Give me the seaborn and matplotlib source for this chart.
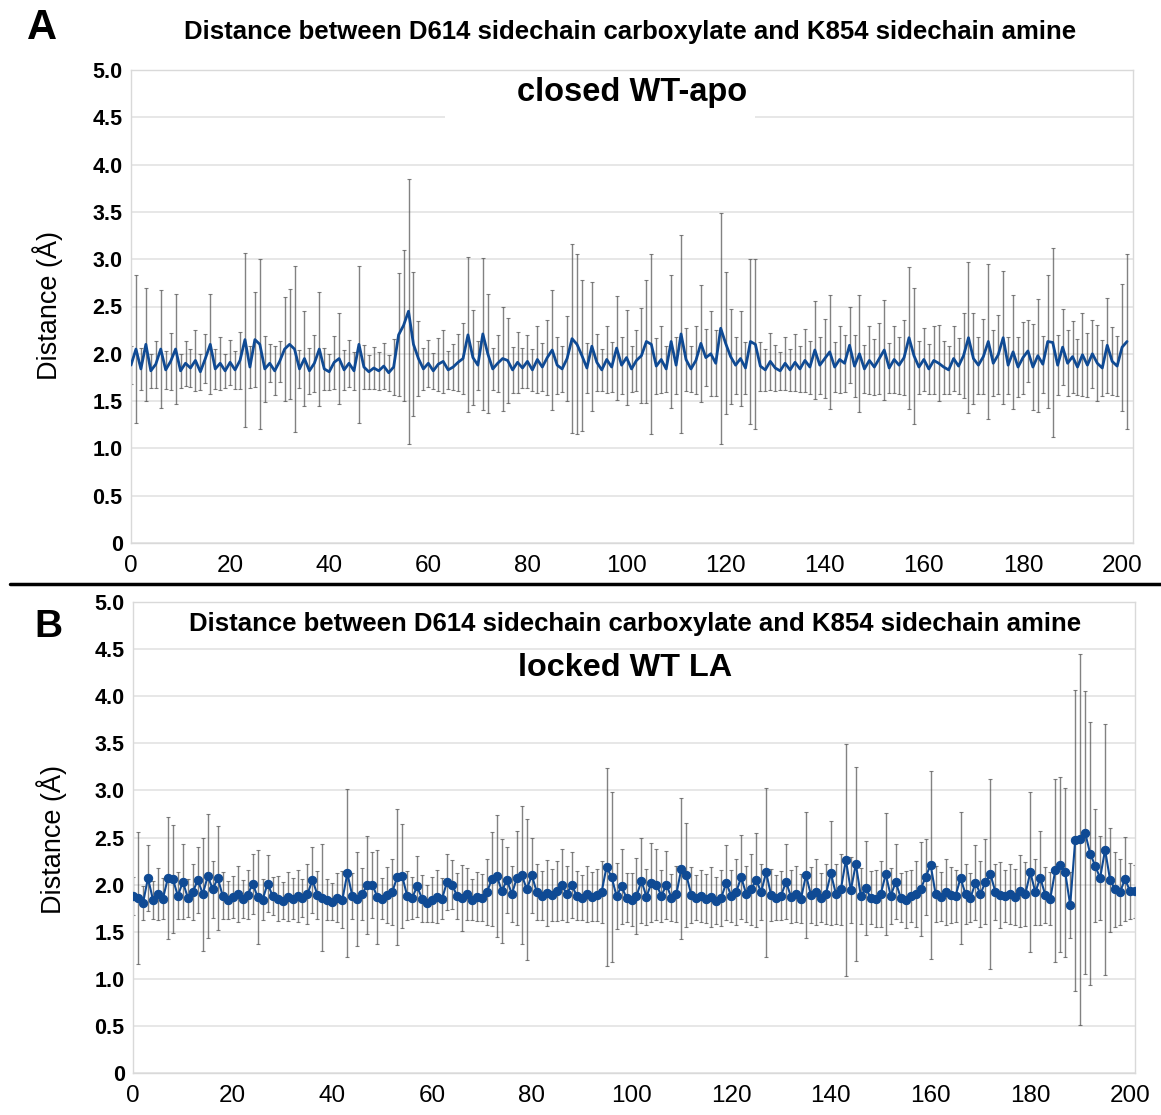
import numpy as np
import pandas as pd
import matplotlib
matplotlib.use("Agg")
import matplotlib.pyplot as plt
from matplotlib.patches import Rectangle
import seaborn as sns

# ---------------- data (1 value per ns) ----------------
title_text = "Distance between D614 sidechain carboxylate and K854 sidechain amine"
label_a = "closed WT-apo"
label_b = "locked WT LA"
y_label = "Distance (Å)"
y_ticks = [0, 0.5, 1.0, 1.5, 2.0, 2.5, 3.0, 3.5, 4.0, 4.5, 5.0]
y_tick_labels = ["0", "0.5", "1.0", "1.5", "2.0", "2.5", "3.0", "3.5", "4.0", "4.5", "5.0"]
x_ticks = [0, 20, 40, 60, 80, 100, 120, 140, 160, 180, 200]

mean_a = [
    1.88, 2.05, 1.84, 2.10, 1.82, 1.89, 2.05, 1.83, 1.92, 2.05,
    1.82, 1.90, 1.85, 1.93, 1.81, 1.95, 2.10, 1.84, 1.90, 1.82,
    1.91, 1.83, 1.93, 2.15, 1.86, 2.15, 2.10, 1.84, 1.90, 1.82,
    1.92, 2.05, 2.10, 2.05, 1.84, 1.95, 1.82, 1.90, 2.05, 1.84,
    1.81, 1.91, 1.95, 1.83, 1.90, 1.82, 2.10, 1.86, 1.81, 1.85,
    1.82, 1.87, 1.80, 1.86, 2.20, 2.30, 2.45, 2.10, 1.95, 1.84,
    1.90, 1.82, 1.89, 1.92, 1.83, 1.86, 1.91, 1.95, 2.20, 1.96,
    1.88, 2.21, 2.00, 1.84, 1.90, 1.95, 1.93, 1.83, 1.91, 1.85,
    1.92, 1.83, 1.94, 1.86, 1.96, 2.04, 1.88, 1.84, 1.95, 2.16,
    2.10, 1.98, 1.85, 2.08, 1.91, 1.83, 1.94, 1.86, 2.06, 1.88,
    1.96, 1.84, 1.93, 1.98, 2.13, 2.10, 1.87, 1.94, 1.84, 2.13,
    1.88, 2.21, 1.94, 1.84, 1.93, 2.11, 1.96, 2.00, 1.90, 2.27,
    2.11, 1.97, 1.88, 1.95, 1.85, 2.13, 2.10, 1.87, 1.83, 1.92,
    1.85, 1.82, 1.90, 1.83, 1.91, 1.84, 1.93, 1.86, 2.04, 1.88,
    1.95, 2.02, 1.86, 1.94, 1.90, 2.09, 1.87, 2.00, 1.84, 1.93,
    1.86, 1.95, 2.04, 1.85, 1.94, 1.88, 1.96, 2.17, 1.98, 1.86,
    1.94, 1.84, 1.93, 1.90, 1.86, 1.83, 1.95, 1.87, 1.98, 2.17,
    1.95, 1.88, 1.97, 2.13, 1.90, 1.99, 2.17, 1.88, 2.02, 1.86,
    1.96, 2.03, 1.86, 1.98, 1.89, 2.13, 2.12, 1.88, 2.07, 1.90,
    1.97, 1.86, 1.99, 1.88, 2.00, 1.90, 1.85, 2.09, 1.92, 1.87,
    2.07, 2.13,
]
sd_a = [
    0.20, 0.78, 0.22, 0.60, 0.18, 0.25, 0.62, 0.20, 0.30, 0.58,
    0.18, 0.24, 0.20, 0.32, 0.19, 0.26, 0.53, 0.21, 0.28, 0.18,
    0.24, 0.20, 0.30, 0.92, 0.22, 0.50, 0.90, 0.35, 0.20, 0.26,
    0.22, 0.55, 0.58, 0.88, 0.20, 0.50, 0.24, 0.30, 0.60, 0.22,
    0.19, 0.28, 0.48, 0.21, 0.25, 0.20, 0.83, 0.23, 0.18, 0.22,
    0.20, 0.24, 0.19, 0.30, 0.65, 0.80, 1.40, 0.76, 0.40, 0.22,
    0.25, 0.19, 0.28, 0.33, 0.20, 0.24, 0.30, 0.38, 0.82, 0.50,
    0.26, 0.80, 0.63, 0.22, 0.30, 0.55, 0.45, 0.24, 0.32, 0.21,
    0.28, 0.22, 0.35, 0.25, 0.40, 0.63, 0.30, 0.24, 0.45, 1.00,
    0.95, 0.80, 0.26, 0.68, 0.30, 0.22, 0.35, 0.26, 0.55, 0.30,
    0.50, 0.24, 0.32, 0.50, 0.65, 0.95, 0.30, 0.35, 0.24, 0.70,
    0.30, 1.05, 0.33, 0.24, 0.36, 0.62, 0.30, 0.45, 0.35, 1.22,
    0.75, 0.50, 0.30, 0.50, 0.28, 0.87, 0.90, 0.26, 0.22, 0.30,
    0.24, 0.20, 0.28, 0.22, 0.30, 0.24, 0.33, 0.28, 0.52, 0.30,
    0.42, 0.60, 0.26, 0.35, 0.30, 0.40, 0.33, 0.62, 0.25, 0.36,
    0.30, 0.38, 0.53, 0.26, 0.35, 0.30, 0.40, 0.75, 0.72, 0.28,
    0.33, 0.26, 0.36, 0.40, 0.28, 0.25, 0.34, 0.30, 0.45, 0.80,
    0.48, 0.30, 0.40, 0.82, 0.35, 0.42, 0.70, 0.30, 0.60, 0.32,
    0.38, 0.33, 0.45, 0.60, 0.30, 0.70, 1.00, 0.32, 0.40, 0.35,
    0.38, 0.30, 0.44, 0.34, 0.36, 0.40, 0.30, 0.50, 0.36, 0.32,
    0.67, 0.92,
]

mean_b = [
    1.88, 1.86, 1.80, 2.07, 1.84, 1.90, 1.85, 2.07, 2.06, 1.88,
    2.03, 1.86, 1.92, 2.05, 1.90, 2.09, 1.95, 2.07, 1.88, 1.84,
    1.87, 1.90, 1.85, 1.89, 2.01, 1.87, 1.84, 2.01, 1.88, 1.85,
    1.83, 1.87, 1.85, 1.88, 1.86, 1.90, 2.05, 1.89, 1.86, 1.84,
    1.82, 1.86, 1.84, 2.12, 1.88, 1.85, 1.90, 2.00, 2.00, 1.87,
    1.85, 1.89, 1.92, 2.08, 2.09, 1.88, 1.86, 1.98, 1.85, 1.80,
    1.84, 1.87, 1.85, 2.03, 2.00, 1.88, 1.86, 1.90, 1.84, 1.87,
    1.86, 1.92, 2.06, 2.09, 1.93, 2.05, 1.90, 2.07, 2.10, 1.95,
    2.10, 1.92, 1.88, 1.91, 1.89, 1.93, 2.00, 1.90, 2.00, 1.88,
    1.86, 1.90, 1.87, 1.89, 1.92, 2.19, 2.08, 1.88, 1.98, 1.86,
    1.84, 1.88, 2.04, 1.87, 2.02, 2.00, 1.88, 2.00, 1.86, 1.90,
    2.17, 2.10, 1.89, 1.86, 1.88, 1.85, 1.87, 1.83, 1.86, 2.02,
    1.88, 1.92, 2.08, 1.90, 1.95, 2.05, 1.92, 2.13, 1.89, 1.86,
    1.88, 2.03, 1.87, 1.90, 1.85, 2.10, 1.89, 1.92, 1.86, 1.90,
    2.12, 1.90, 1.95, 2.26, 1.94, 2.22, 1.88, 1.96, 1.86, 1.85,
    1.90, 2.11, 1.88, 2.03, 1.86, 1.84, 1.88, 1.90, 1.95, 2.08,
    2.21, 1.90, 1.87, 1.92, 1.89, 1.88, 2.07, 1.90, 1.86, 2.02,
    1.90, 2.03, 2.11, 1.92, 1.89, 1.88, 1.90, 1.87, 1.93, 1.90,
    2.13, 1.92, 2.07, 1.89, 1.85, 2.15, 2.21, 2.13, 1.78, 2.47,
    2.48, 2.55, 2.33, 2.20, 2.07, 2.37, 2.05, 1.95, 1.92, 2.06,
    1.93, 1.93,
]
sd_b = [
    0.20, 0.70, 0.18, 0.35, 0.20, 0.28, 0.22, 0.65, 0.57, 0.25,
    0.40, 0.20, 0.30, 0.35, 0.60, 0.66, 0.30, 0.55, 0.25, 0.20,
    0.22, 0.30, 0.20, 0.26, 0.32, 0.50, 0.22, 0.30, 0.20, 0.24,
    0.20, 0.26, 0.22, 0.28, 0.20, 0.32, 0.35, 0.25, 0.57, 0.22,
    0.20, 0.26, 0.30, 0.89, 0.24, 0.50, 0.28, 0.52, 0.35, 0.50,
    0.22, 0.30, 0.35, 0.72, 0.55, 0.26, 0.22, 0.32, 0.25, 0.20,
    0.24, 0.28, 0.22, 0.30, 0.26, 0.24, 0.35, 0.28, 0.22, 0.26,
    0.25, 0.35, 0.50, 0.65, 0.55, 0.35, 0.30, 0.50, 0.73, 0.75,
    0.40, 0.30, 0.26, 0.35, 0.28, 0.32, 0.38, 0.30, 0.35, 0.26,
    0.24, 0.30, 0.26, 0.28, 0.33, 1.05, 0.90, 0.35, 0.40, 0.26,
    0.28, 0.40, 0.45, 0.30, 0.42, 0.38, 0.28, 0.36, 0.25, 0.30,
    0.75, 0.55, 0.30, 0.24, 0.28, 0.26, 0.32, 0.25, 0.30, 0.40,
    0.28, 0.35, 0.45, 0.30, 0.38, 0.50, 0.30, 0.90, 0.28, 0.24,
    0.26, 0.40, 0.28, 0.30, 0.26, 0.67, 0.30, 0.35, 0.26, 0.32,
    0.55, 0.32, 0.38, 1.23, 0.35, 1.03, 0.30, 0.50, 0.28, 0.30,
    0.35, 0.65, 0.30, 0.40, 0.26, 0.30, 0.28, 0.35, 0.50, 0.40,
    1.00, 0.30, 0.26, 0.35, 0.30, 0.28, 0.70, 0.32, 0.26, 0.40,
    0.35, 0.45, 1.01, 0.30, 0.35, 0.28, 0.32, 0.30, 0.38, 0.34,
    0.85, 0.35, 0.50, 0.30, 0.28, 0.97, 0.93, 0.90, 0.35, 1.60,
    1.97, 1.50, 1.40, 0.60, 0.45, 1.33, 0.55, 0.40, 0.35, 0.45,
    0.30, 0.28,
]

# ---------------- styling ----------------
sns.set_style("white")
plt.rcParams["font.family"] = ["Liberation Sans", "DejaVu Sans"]
plt.rcParams["text.color"] = "black"
plt.rcParams["xtick.color"] = "black"
plt.rcParams["ytick.color"] = "black"
plt.rcParams["axes.labelcolor"] = "black"

BLUE = "#0f4a94"
ERR = "#4d4d4d"
GRID = "#e3e3e3"

W, H = 1161, 1115
fig = plt.figure(figsize=(W / 100, H / 100), dpi=100)


def px_axes(left, right, top, bottom):
    return fig.add_axes([left / W, 1 - bottom / H, (right - left) / W, (bottom - top) / H])


def style_axes(ax, xmax):
    ax.set_xlim(0, xmax)
    ax.set_ylim(0, 5.0)
    ax.set_yticks(y_ticks)
    ax.set_yticklabels(y_tick_labels, fontsize=15.5, fontweight="bold", color="black")
    ax.set_xticks(x_ticks)
    ax.set_xticklabels([str(t) for t in x_ticks], fontsize=17.5, color="black")
    ax.set_xticks(np.arange(0, 201, 5), minor=True)
    ax.tick_params(axis="x", which="both", length=5, color="#c8c8c8", width=1, pad=4,
                   labelcolor="black")
    ax.tick_params(axis="y", length=0, pad=6, labelcolor="black")
    ax.grid(axis="y", color=GRID, lw=1.2)
    ax.set_axisbelow(True)
    for s in ax.spines.values():
        s.set_color("#d9d9d9")
        s.set_linewidth(1.0)
    ax.set_xlabel("")
    ax.set_ylabel("")


# ---------- Panel A ----------
df_a = pd.DataFrame({"time": np.arange(len(mean_a)), "dist": mean_a, "sd": sd_a})
ax_a = px_axes(131, 1133, 70, 543)
ax_a.errorbar(df_a["time"], df_a["dist"], yerr=df_a["sd"], fmt="none",
              ecolor=ERR, elinewidth=1.0, capsize=1.6, capthick=0.8, alpha=0.7, zorder=2)
sns.lineplot(data=df_a, x="time", y="dist", ax=ax_a, color=BLUE, lw=2.0, zorder=3)
style_axes(ax_a, 202.2)

# ---------- Panel B ----------
df_b = pd.DataFrame({"time": np.arange(len(mean_b)), "dist": mean_b, "sd": sd_b})
ax_b = px_axes(133, 1135, 602, 1073)
ax_b.errorbar(df_b["time"], df_b["dist"], yerr=df_b["sd"], fmt="none",
              ecolor=ERR, elinewidth=1.0, capsize=1.6, capthick=0.8, alpha=0.7, zorder=2)
sns.lineplot(data=df_b, x="time", y="dist", ax=ax_b, color=BLUE, lw=1.5,
             marker="o", markersize=6, markeredgecolor=BLUE, zorder=3)
style_axes(ax_b, 201)

# ---------- figure texts ----------
fig.text(42 / W, 1 - 28 / H, "A", fontsize=30, fontweight="bold", ha="center", va="center")
fig.text(48 / W, 1 - 627 / H, "B", fontsize=28, fontweight="bold", ha="center", va="center")

fig.text(630 / W, 1 - 32 / H, title_text, fontsize=18.5, fontweight="bold", ha="center", va="center")
fig.text(635 / W, 1 - 624 / H, title_text, fontsize=18.5, fontweight="bold", ha="center", va="center")

fig.patches.append(Rectangle((445 / W, 1 - 125 / H), 310 / W, 47 / H,
                             transform=fig.transFigure, facecolor="white",
                             edgecolor="none", zorder=1))
fig.text(632 / W, 1 - 92 / H, label_a, fontsize=23.5, fontweight="bold", ha="center", va="center", zorder=3)
fig.text(625 / W, 1 - 668 / H, label_b, fontsize=23.3, fontweight="bold", ha="center", va="center", zorder=3)

fig.text(48 / W, 1 - 305 / H, y_label, fontsize=19.5, rotation=90, ha="center", va="center")
fig.text(52 / W, 1 - 840 / H, y_label, fontsize=19.5, rotation=90, ha="center", va="center")

# divider line between panels
fig.add_artist(plt.Line2D([10 / W, 1.0], [1 - 584 / H, 1 - 584 / H],
                          transform=fig.transFigure, color="black", lw=2.5))

fig.savefig("out.png", dpi=100)
